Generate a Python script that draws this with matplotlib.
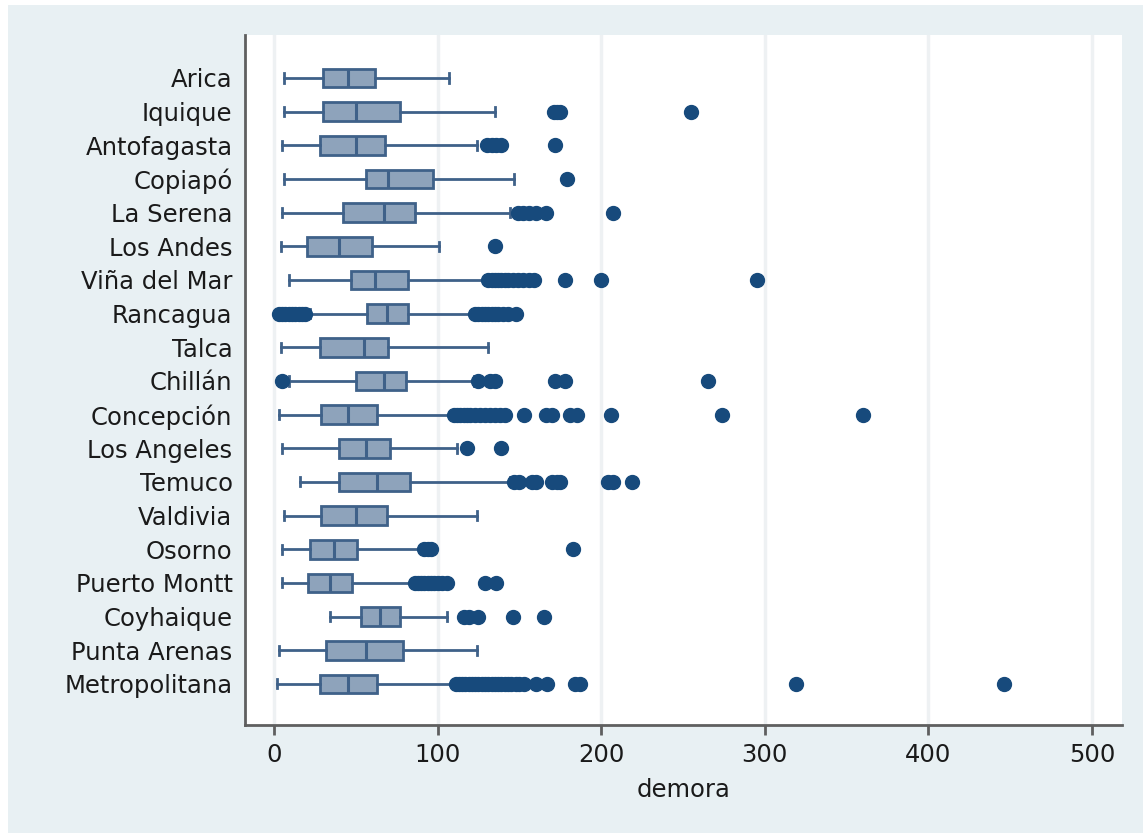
import matplotlib
matplotlib.use("Agg")
import matplotlib.pyplot as plt
from matplotlib.patches import Rectangle

# box plot summary per region
cities = ["Arica", "Iquique", "Antofagasta", "Copiapó", "La Serena", "Los Andes",
          "Viña del Mar", "Rancagua", "Talca", "Chillán", "Concepción", "Los Angeles",
          "Temuco", "Valdivia", "Osorno", "Puerto Montt", "Coyhaique", "Punta Arenas",
          "Metropolitana"]
whislo = [6, 6, 5, 6, 5, 4, 9, 22, 4, 9, 3, 5, 16, 6, 5, 5, 34, 3, 2]
q1 = [30, 30, 28, 56, 42, 20, 47, 57, 28, 50, 29, 40, 40, 29, 22, 21, 53, 32, 28]
med = [45, 50, 50, 70, 67, 40, 62, 69, 55, 67, 45, 56, 63, 50, 37, 34, 65, 56, 45]
q3 = [62, 77, 68, 97, 86, 60, 82, 82, 70, 81, 63, 71, 83, 69, 51, 48, 77, 79, 63]
whishi = [107, 135, 124, 147, 144, 101, 129, 121, 131, 122, 109, 112, 144, 124, 91, 85, 106, 124, 110]

# outliers
fliers = [
    [],
    [171, 173, 175, 255],
    [130, 133, 136, 139, 172],
    [179],
    [149, 152, 156, 160, 166, 207],
    [135],
    [131, 133, 135, 137, 139, 141, 143, 146, 149, 152, 156, 159, 178, 200, 295],
    [3, 5, 7, 9, 11, 13, 15, 17, 19, 123, 125, 127, 129, 131, 133, 135, 137, 140, 143, 148],
    [],
    [5, 125, 132, 135, 172, 178, 265],
    [110, 112, 114, 116, 118, 120, 123, 126, 129, 132, 135, 138, 141, 153, 166, 170,
     181, 185, 206, 274, 360],
    [118, 139],
    [147, 150, 158, 160, 170, 173, 175, 204, 207, 219],
    [],
    [92, 94, 96, 183],
    [86, 88, 90, 92, 94, 96, 98, 100, 103, 106, 129, 136],
    [116, 119, 125, 146, 165],
    [],
    [111, 113, 115, 117, 119, 121, 123, 125, 127, 129, 131, 133, 135, 137, 139, 141,
     143, 145, 148, 150, 153, 160, 167, 184, 187, 319, 446],
]
xticks = [0, 100, 200, 300, 400, 500]

bg = "#e8f0f3"
box_face = "#8ea3bb"
box_edge = "#3f6189"
dot = "#174a7c"
axis_col = "#5f5f5f"

plt.rcParams["font.family"] = ["DejaVu Sans"]

fig = plt.figure(figsize=(11.43, 8.33), dpi=100, facecolor="white")
fig.patches.append(Rectangle((8 / 1143, 0), 1 - 8 / 1143, 1 - 5 / 833,
                             transform=fig.transFigure, facecolor=bg,
                             edgecolor="none", zorder=-10))

ax = fig.add_axes([245 / 1143, 108 / 833, (1122 - 245) / 1143, (725 - 35) / 833])
ax.set_facecolor("white")

stats = []
for i, name in enumerate(cities):
    stats.append(dict(label=name, med=med[i], q1=q1[i], q3=q3[i],
                      whislo=whislo[i], whishi=whishi[i], fliers=fliers[i]))

ax.bxp(stats, positions=range(len(cities)), widths=0.56, orientation="horizontal",
       patch_artist=True, capwidths=0.27,
       boxprops=dict(facecolor=box_face, edgecolor=box_edge, linewidth=2),
       medianprops=dict(color=box_edge, linewidth=2.2),
       whiskerprops=dict(color=box_edge, linewidth=2),
       capprops=dict(color=box_edge, linewidth=2),
       flierprops=dict(marker="o", markersize=10, markerfacecolor=dot,
                       markeredgecolor=dot, linestyle="none"))

ax.set_ylim(19.22, -1.277)
ax.set_xlim(-17.7, 518.3)
ax.set_xticks(xticks)
ax.set_xticklabels([str(t) for t in xticks])
ax.set_yticks(range(len(cities)))
ax.set_yticklabels(cities)

ax.grid(axis="x", color="#eef1f3", linewidth=2.5)
ax.grid(axis="y", visible=False)
ax.set_axisbelow(True)

for s in ["top", "right"]:
    ax.spines[s].set_visible(False)
for s in ["left", "bottom"]:
    ax.spines[s].set_color(axis_col)
    ax.spines[s].set_linewidth(2)

ax.tick_params(axis="x", length=7, width=2, color=axis_col, pad=6,
               labelsize=17.5, labelcolor="#1a1a1a")
ax.tick_params(axis="y", length=0, pad=9, labelsize=17.5, labelcolor="#1a1a1a")
ax.set_xlabel("demora", fontsize=17.5, color="#1a1a1a", labelpad=8)

fig.savefig("out.png", dpi=100, facecolor=fig.get_facecolor())
